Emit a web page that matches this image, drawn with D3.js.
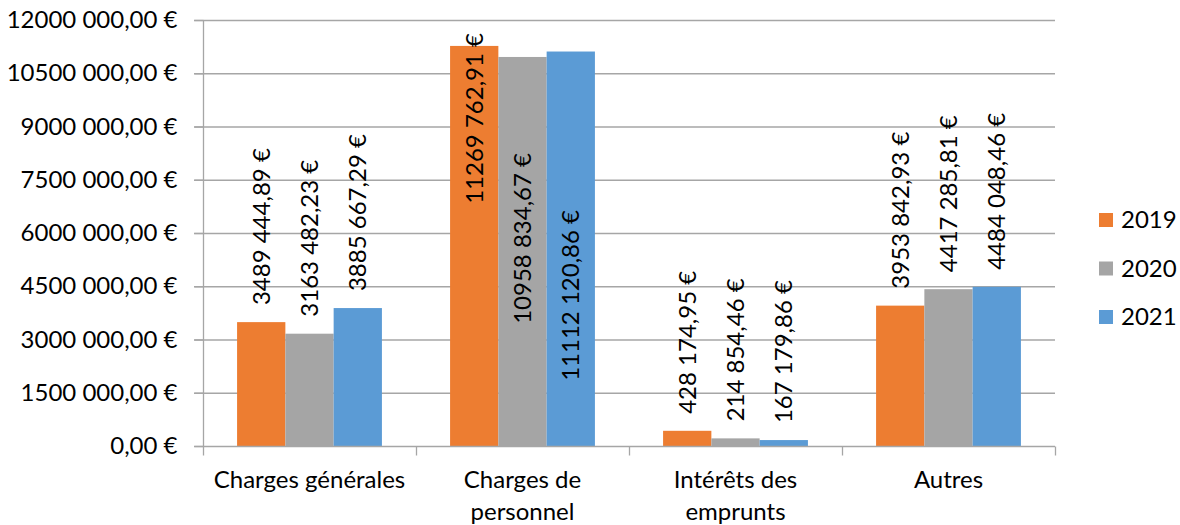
<!DOCTYPE html>
<html>
<head>
<meta charset="utf-8">
<script src="https://cdn.jsdelivr.net/npm/d3@7"></script>
<style>
  body { margin: 0; background: #fff; }
  text { font-family: Lato, "Open Sans", sans-serif; fill: #000; }
</style>
</head>
<body>
<div id="chart"></div>
<script>
const categories = ["Charges générales", "Charges de personnel", "Intérêts des emprunts", "Autres"];
const categoryLines = [["Charges générales"], ["Charges de", "personnel"], ["Intérêts des", "emprunts"], ["Autres"]];
const years = ["2019", "2020", "2021"];
const values2019 = [3489444.89, 11269762.91, 428174.95, 3953842.93];
const values2020 = [3163482.23, 10958834.67, 214854.46, 4417285.81];
const values2021 = [3885667.29, 11112120.86, 167179.86, 4484048.46];
const yTicks = [0, 1500000, 3000000, 4500000, 6000000, 7500000, 9000000, 10500000, 12000000];

const colors = ["#ed7d31", "#a5a5a5", "#5b9bd5"];
const width = 1180, height = 525;
const margin = {top: 20, right: 125, bottom: 79, left: 203};
const fontSize = 24;

// excel french format: "12000 000,00 €"
function euro(v) {
    let s = v.toFixed(2).split(".");
    let int = s[0];
    if (int.length > 3) int = int.slice(0, -3) + " " + int.slice(-3);
    return int + "," + s[1] + " €";
}

const series = years.map((y, i) => ({
    year: y,
    color: colors[i],
    values: [values2019, values2020, values2021][i]
}));

const svg = d3.select("#chart").append("svg")
    .attr("width", width)
    .attr("height", height);

const x = d3.scaleBand()
    .domain(categories)
    .range([margin.left, width - margin.right])
    .padding(0);

const pad = x.bandwidth() * 0.16;
const xSub = d3.scaleBand()
    .domain(years)
    .range([pad, x.bandwidth() - pad])
    .padding(0);

const y = d3.scaleLinear()
    .domain([0, 12000000])
    .range([height - margin.bottom, margin.top]);

// gridlines
svg.append("g")
    .selectAll("line")
    .data(yTicks.slice(1))
    .enter().append("line")
    .attr("x1", margin.left - 9)
    .attr("x2", width - margin.right)
    .attr("y1", d => y(d) + 0.5)
    .attr("y2", d => y(d) + 0.5)
    .attr("stroke", "#a6a6a6")
    .attr("stroke-width", 1.3);

// y axis
const yAxis = svg.append("g")
    .attr("transform", "translate(" + (margin.left + 0.5) + ",0)")
    .call(d3.axisLeft(y).tickValues(yTicks).tickFormat(euro).tickSize(9).tickPadding(17));
yAxis.selectAll("line").attr("stroke", "#a6a6a6").attr("stroke-width", 1.3);
yAxis.select(".domain").attr("stroke", "#a6a6a6").attr("stroke-width", 1.3).attr("d", "M0," + y(0) + "V" + y(12000000));
yAxis.selectAll("text").style("font-size", fontSize + "px").style("font-family", "Lato").attr("fill", "#000");

// bars
const groups = svg.append("g")
    .selectAll("g")
    .data(series)
    .enter().append("g")
    .attr("fill", d => d.color);

groups.selectAll("rect")
    .data(d => d.values.map((v, i) => ({v: v, cat: categories[i], year: d.year})))
    .enter().append("rect")
    .attr("x", d => x(d.cat) + xSub(d.year))
    .attr("width", xSub.bandwidth())
    .attr("y", d => y(d.v))
    .attr("height", d => y(0) - y(d.v));

// x axis
const baseY = y(0) + 0.5;
svg.append("line")
    .attr("x1", margin.left - 9).attr("x2", width - margin.right)
    .attr("y1", baseY).attr("y2", baseY)
    .attr("stroke", "#a6a6a6").attr("stroke-width", 1.3);
svg.append("g")
    .selectAll("line")
    .data(categories.concat(["end"]))
    .enter().append("line")
    .attr("x1", d => (d === "end" ? width - margin.right : x(d)) + 0.5)
    .attr("x2", d => (d === "end" ? width - margin.right : x(d)) + 0.5)
    .attr("y1", baseY).attr("y2", baseY + 9)
    .attr("stroke", "#a6a6a6").attr("stroke-width", 1.3);

const catLabels = svg.append("g")
    .selectAll("text")
    .data(categories)
    .enter().append("text")
    .attr("x", d => x(d) + x.bandwidth() / 2)
    .attr("y", 488)
    .attr("text-anchor", "middle")
    .style("font-size", fontSize + "px");
catLabels.selectAll("tspan")
    .data((d, i) => categoryLines[i])
    .enter().append("tspan")
    .attr("x", function() { return this.parentNode.getAttribute("x"); })
    .attr("dy", (d, i) => i === 0 ? 0 : 32)
    .text(d => d);

// data labels (rotated); the ones that don't fit above the bar sit where Excel put them
const insideLabelTop = {"Charges de personnel": [33, 153, 210]};
series.forEach((s, si) => {
    s.values.forEach((v, i) => {
        const cat = categories[i];
        const cx = x(cat) + xSub(s.year) + xSub.bandwidth() / 2;
        let ty, anchor;
        if (insideLabelTop[cat]) {
            ty = insideLabelTop[cat][si];
            anchor = "end";
        } else {
            ty = y(v) - 17;
            anchor = "start";
        }
        svg.append("text")
            .attr("transform", "translate(" + cx + "," + ty + ") rotate(-90)")
            .attr("text-anchor", anchor)
            .attr("dy", "0.35em")
            .style("font-size", fontSize + "px")
            .text(euro(v));
    });
});

// legend
const legend = svg.append("g")
    .selectAll("g")
    .data(series)
    .enter().append("g")
    .attr("transform", (d, i) => "translate(1099," + (213 + i * 48.5) + ")");
legend.append("rect")
    .attr("width", 14).attr("height", 14)
    .attr("fill", d => d.color);
legend.append("text")
    .attr("x", 22).attr("y", 7)
    .attr("dy", "0.35em")
    .style("font-size", fontSize + "px")
    .text(d => d.year);
</script>
</body>
</html>
